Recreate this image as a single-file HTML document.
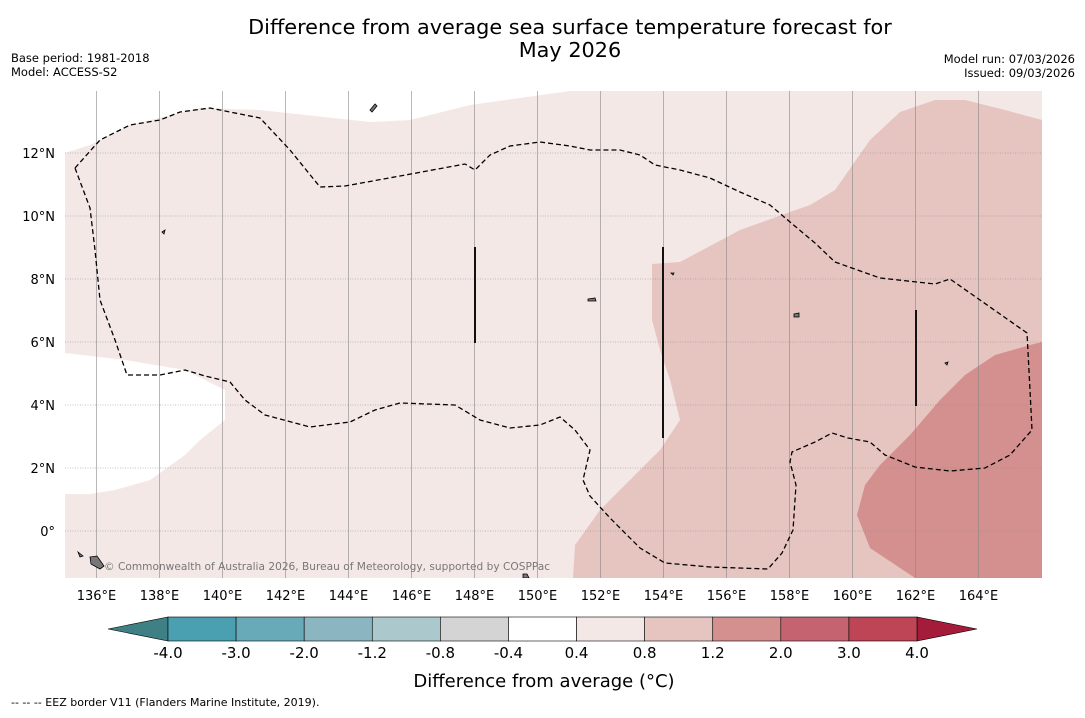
<!DOCTYPE html>
<html><head><meta charset="utf-8"><style>
body{margin:0;background:#fff;font-family:"Liberation Sans","DejaVu Sans",sans-serif;}
svg text{font-family:"DejaVu Sans","Liberation Sans",sans-serif;}
</style></head><body>
<svg width="1085" height="713" viewBox="0 0 1085 713">
<text x="570" y="34" text-anchor="middle" font-size="20.8">Difference from average sea surface temperature forecast for</text>
<text x="570" y="57" text-anchor="middle" font-size="20.8">May 2026</text>
<text x="11" y="62" font-size="11.5">Base period: 1981-2018</text>
<text x="11" y="76" font-size="11.5">Model: ACCESS-S2</text>
<text x="1075" y="63" font-size="11.5" text-anchor="end">Model run: 07/03/2026</text>
<text x="1075" y="77" font-size="11.5" text-anchor="end">Issued: 09/03/2026</text>
<g id="map">
<clipPath id="c"><rect x="65" y="91" width="977" height="487"/></clipPath>
<g clip-path="url(#c)">
<path fill="#f4e8e7" d="M65,153 L90,145 L130,125 L200,108 L260,110 L370,122 L410,120 L470,105 L570,91 L1042,91 L1042,578 L65,578 L65,494 L90,494 L115,490 L150,480 L185,455 L200,440 L225,420 L225,390 L185,370 L125,360 L65,353 Z"/>
<path fill="#e6c5c1" d="M573,578 L575,545 L600,510 L630,480 L660,450 L680,420 L670,380 L660,350 L652,320 L652,264 L680,262 L740,230 L790,212 L810,205 L835,190 L870,140 L900,112 L935,100 L965,100 L1005,110 L1042,120 L1042,578 Z"/>
<path fill="#d4908f" d="M1042,342 L1030,345 L995,355 L965,375 L940,400 L910,435 L880,465 L865,485 L857,515 L870,548 L915,578 L1042,578 Z"/>
<g id="grid" stroke="#888" stroke-width="0.6"></g>
<g stroke="#111" stroke-width="2">
<line x1="475" y1="247" x2="475" y2="343"/><line x1="663" y1="247" x2="663" y2="438"/><line x1="916" y1="310" x2="916" y2="406"/>
</g>
<path fill="none" stroke="#000" stroke-width="1.3" stroke-dasharray="5,3" d="M75,168 L100,140 L130,125 L160,120 L180,112 L210,108 L260,118 L290,150 L320,187 L345,186 L400,176 L465,164 L475,170 L490,155 L510,146 L540,142 L570,146 L590,150 L620,150 L640,155 L655,165 L680,170 L710,178 L740,192 L770,205 L790,222 L815,243 L835,262 L880,278 L935,284 L950,279 L980,300 L1027,333 L1030,390 L1032,430 L1010,455 L985,468 L950,471 L915,467 L885,455 L870,442 L848,438 L832,433 L815,442 L792,452 L790,462 L796,485 L793,530 L782,553 L768,569 L710,567 L665,563 L640,548 L610,518 L590,496 L583,480 L590,450 L575,430 L560,417 L540,425 L510,428 L480,420 L455,405 L400,403 L375,410 L350,422 L310,427 L265,415 L245,400 L230,382 L205,376 L185,370 L160,375 L127,375 L115,340 L100,300 L95,250 L90,208 L75,168"/>
<g fill="#777" stroke="#000" stroke-width="0.8">
<path d="M370,110 L375,104 L377,106 L372,112 Z"/><path d="M162,232 L165,230 L164,234 Z"/><path d="M588,299 L595,298 L596,301 L588,301 Z"/><path d="M794,314 L799,313 L799,317 L794,317 Z"/><path d="M945,363 L948,362 L947,365 Z"/><path d="M90,557 L97,556 L104,566 L100,569 L91,564 Z"/><path d="M78,552 L83,556 L80,557 Z"/><path d="M523,574 L527,574 L529,578 L523,578 Z"/><path d="M671,273 L674,273 L673,275 Z"/>
</g>
</g>
<text x="104" y="570" font-size="10.6" fill="#777">© Commonwealth of Australia 2026, Bureau of Meteorology, supported by COSPPac</text>
</g>
<g id="ylab" font-size="13"></g>
<g id="xlab" font-size="13"></g>
<g id="cbar"></g>
<text x="544" y="687" text-anchor="middle" font-size="18">Difference from average (°C)</text>
<text x="11" y="706" font-size="11">--  --  -- EEZ border V11 (Flanders Marine Institute, 2019).</text>
</svg>
<script>
const lonTicks=[136,138,140,142,144,146,148,150,152,154,156,158,160,162,164];
const latTicks=[0,2,4,6,8,10,12];
const cbLabels=["-4.0","-3.0","-2.0","-1.2","-0.8","-0.4","0.4","0.8","1.2","2.0","3.0","4.0"];
const cbColors=["#4aa0b0","#69aab8","#8ab5c1","#abc8cd","#d4d4d4","#ffffff","#f4e8e7","#e6c5c1","#d4908f","#c56470","#bd4556"];
const NS="http://www.w3.org/2000/svg";
const xs=lon=>65+(lon-135)*31.5, ys=lat=>531-lat*31.5;
function mk(t,a,p){const e=document.createElementNS(NS,t);for(const k in a)e.setAttribute(k,a[k]);p.appendChild(e);return e;}
const grid=document.getElementById('grid'),xl=document.getElementById('xlab'),yl=document.getElementById('ylab');
lonTicks.forEach(l=>{const x=xs(l);
const g=mk('line',{x1:x,x2:x,y1:91,y2:578},grid);


const t=mk('text',{x:x,y:600,'text-anchor':'middle'},xl);t.textContent=l+'°E';

});
latTicks.forEach(l=>{const y=ys(l);
const g=mk('line',{x1:65,x2:1042,y1:y,y2:y,'stroke-dasharray':'1,1.5'},grid);


const t=mk('text',{x:55,y:y+5,'text-anchor':'end'},yl);t.textContent=l===0?'0°':l+'°N';

});
const cb=document.getElementById('cbar');const x0=168,w=(917-168)/cbColors.length;
const lt=mk('polygon',{points:`108,629 ${x0},617 ${x0},641`,fill:'#3e8083',stroke:'#000','stroke-width':0.6},cb);


const rt=mk('polygon',{points:`977,629 917,617 917,641`,fill:'#a41c3a',stroke:'#000','stroke-width':0.6},cb);


cbColors.forEach((c,i)=>{const r=mk('rect',{x:x0+i*w,y:617,width:w,height:24,fill:c,stroke:'#000','stroke-width':0.6},cb);

});
cbLabels.forEach((s,i)=>{const t=mk('text',{x:x0+i*w,y:658,'text-anchor':'middle','font-size':15},cb);t.textContent=s;

});
</script>
</body></html>
